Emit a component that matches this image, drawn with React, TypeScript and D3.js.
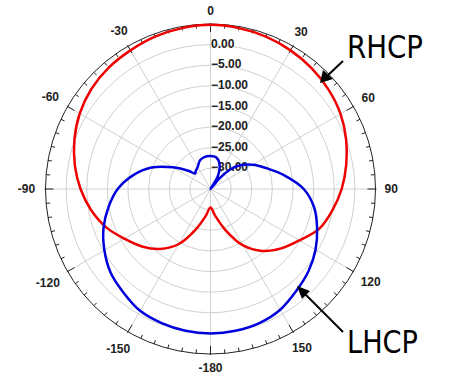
import * as d3 from 'd3';

// radiation pattern, dB vs angle (deg, clockwise from top)
const rhcpAngles = [-180, -170, -160, -150, -140, -130, -120, -110, -100, -90, -80, -70, -60, -50, -40, -30, -20, -10, 0, 10, 20, 30, 40, 50, 60, 70, 80, 90, 100, 110, 120, 130, 140, 150, 160, 170];
const rhcpDb = [-30.5, -28.4, -24.6, -19.6, -16.0, -13.3, -10.9, -8.0, -5.6, -3.5, -1.6, 0.1, 1.6, 2.7, 3.4, 3.8, 4.3, 4.6, 4.8, 4.6, 4.3, 3.8, 3.2, 2.4, 1.4, 0.0, -1.6, -3.2, -5.0, -6.9, -10.1, -12.6, -15.4, -19.2, -24.4, -28.4];

const lhcpAngles = [-180, -170, -160, -150, -140, -130, -120, -110, -100, -90, -80, -70, -60, -50, -45, -40, -30, -20, -10, 0, 10, 20, 30, 36, 40, 45, 50, 60, 70, 80, 90, 100, 110, 120, 130, 140, 150, 160, 170];
const lhcpDb = [0.0, -0.1, -0.4, -0.9, -2.2, -3.4, -5.3, -7.4, -9.9, -12.5, -15.9, -19.8, -24.5, -28.2, -29.7, -29.4, -28.8, -27.6, -27.1, -27.0, -27.2, -28.6, -31.5, -35, -31.8, -28.4, -26.2, -23.2, -20.4, -16.6, -12.4, -9.5, -7.5, -5.6, -4.0, -2.7, -1.2, -0.4, -0.1];

const ringLevels = [0, -5, -10, -15, -20, -25, -30];
const angleLabels = [0, 30, 60, 90, 120, 150, -180, -150, -120, -90, -60, -30];

const W = 450;
const H = 387;
const cx = 210.5;
const cy = 189;
const R = 165;

const rad = (deg: number) => (deg * Math.PI) / 180;

export default function App() {
  const r = d3.scaleLinear().domain([-35, 5]).range([0, R]).clamp(true);

  const curve = (angles: number[], vals: number[]) =>
    d3
      .lineRadial<number>()
      .angle((_, i) => rad(angles[i]))
      .radius((d) => r(d))
      .curve(d3.curveCatmullRomClosed.alpha(0.5))(vals) ?? '';

  const pt = (deg: number, rr: number) => [rr * Math.sin(rad(deg)), -rr * Math.cos(rad(deg))];

  const spokes = d3.range(0, 360, 30);
  const ticks = d3.range(0, 360, 5);
  const font = "'Liberation Sans', Arial, sans-serif";
  const narrow = "'Liberation Sans Narrow', 'Arial Narrow', 'DejaVu Sans Condensed', sans-serif";

  return (
    <svg width={W} height={H} style={{ position: 'fixed', left: 0, top: 0, background: '#fff' }}>
      <g transform={`translate(${cx},${cy})`}>
        {ringLevels.map((v) => (
          <circle key={v} r={r(v)} fill="none" stroke="#d0d0d0" strokeWidth={1} />
        ))}
        {spokes.map((a) => {
          const [x, y] = pt(a, R);
          return <line key={a} x1={0} y1={0} x2={x} y2={y} stroke="#d0d0d0" strokeWidth={1} />;
        })}
        <circle r={R} fill="none" stroke="#222" strokeWidth={1} />
        {ticks.map((a) => {
          const major = a % 30 === 0;
          const [x1, y1] = pt(a, R + (major ? 1 : 0));
          const [x2, y2] = pt(a, R - (major ? 8 : 4));
          return <line key={a} x1={x1} y1={y1} x2={x2} y2={y2} stroke="#222" strokeWidth={1} />;
        })}
        {angleLabels.map((a) => {
          const txt = String(a);
          const w = txt.length * 6.7;
          const off = R + 9 + (w / 2) * Math.abs(Math.sin(rad(a))) + 4.5 * Math.abs(Math.cos(rad(a)));
          const [x, y] = pt(a, off);
          return (
            <text key={a} x={x} y={y + 4.3} textAnchor="middle" fontFamily={font} fontWeight="bold" fontSize={12} fill="#222">
              {txt}
            </text>
          );
        })}
        {ringLevels.map((v) => (
          <text key={v} x={0.5} y={-r(v) + 3} fontFamily={font} fontWeight="bold" fontSize={12} fill="#222">
            {d3.format('.2f')(v)}
          </text>
        ))}
        <path d={curve(rhcpAngles, rhcpDb)} fill="none" stroke="#ee0000" strokeWidth={2.5} />
        <path d={curve(lhcpAngles, lhcpDb)} fill="none" stroke="#0000dd" strokeWidth={2.5} />
      </g>

      <line x1={343} y1={61} x2={326} y2={77} stroke="#000" strokeWidth={2} />
      <polygon points="320,83 323,70 333,79" fill="#000" />
      <text x={347} y={58} fontFamily={narrow} fontSize={32} textLength={76} lengthAdjust="spacingAndGlyphs" fill="#000">
        RHCP
      </text>

      <line x1={343} y1={332} x2={303} y2={292} stroke="#000" strokeWidth={2} />
      <polygon points="297,286 310,291 302,299" fill="#000" />
      <text x={347} y={353} fontFamily={narrow} fontSize={32} textLength={71} lengthAdjust="spacingAndGlyphs" fill="#000">
        LHCP
      </text>
    </svg>
  );
}
